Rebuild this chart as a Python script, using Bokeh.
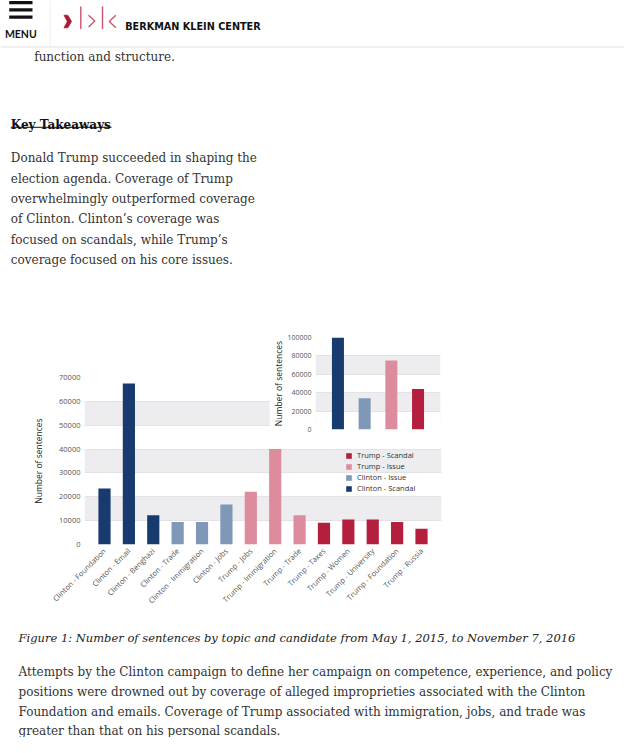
import math
from bokeh.plotting import figure
from bokeh.models import (Range1d, FactorRange, FixedTicker, NumeralTickFormatter,
                          Legend, LegendItem, GridBox, ColumnDataSource)
from bokeh.layouts import column
from bokeh.transform import factor_cmap
from bokeh.core.properties import value
from bokeh.embed import file_html
from bokeh.resources import INLINE

# ---------------- data ----------------
categories = ["Clinton - Foundation", "Clinton - Email", "Clinton - Benghazi",
              "Clinton - Trade", "Clinton - Immigration", "Clinton - Jobs",
              "Trump - Jobs", "Trump - Immigration", "Trump - Trade",
              "Trump - Taxes", "Trump - Women", "Trump - University",
              "Trump - Foundation", "Trump - Russia"]
sentences = [23500, 67500, 12300, 9400, 9400, 16800,
             22100, 40000, 12300, 9100, 10500, 10500, 9400, 6600]
groups = ["Clinton - Scandal"] * 3 + ["Clinton - Issue"] * 3 + \
         ["Trump - Issue"] * 3 + ["Trump - Scandal"] * 5

summary_groups = ["Clinton - Scandal", "Clinton - Issue", "Trump - Issue", "Trump - Scandal"]
summary_sentences = [100000, 34000, 75000, 44000]

group_colors = ["#173b6e", "#7f98b8", "#dc8c9c", "#b41f3d"]

main_ticks = [0, 10000, 20000, 30000, 40000, 50000, 60000, 70000]
inset_ticks = [0, 20000, 40000, 60000, 80000, 100000]

legend_order = ["Trump - Scandal", "Trump - Issue", "Clinton - Issue", "Clinton - Scandal"]

# ---------------- styles ----------------
SERIF = value("DejaVu Serif")
HEAD = value("DejaVu Sans")
MENU_FONT = value("Lato")
CHART_FONT = "Open Sans"
BODY_COLOR = "#333333"


def blank(p):
    p.axis.visible = False
    p.grid.visible = False
    p.outline_line_color = None
    p.background_fill_color = "white"
    p.border_fill_color = "white"


# ---------------- top page part ----------------
p_top = figure(width=624, height=322, x_range=Range1d(8, 632), y_range=Range1d(330, 8),
               output_backend="svg", toolbar_location=None, min_border=0)
blank(p_top)

p_top.text(x=[41.7], y=[64], text=["function and structure."], text_font=SERIF,
           text_font_size="12px", text_baseline="alphabetic", text_color=BODY_COLOR)
# header band
p_top.quad(left=[8], right=[632], top=[8], bottom=[54], fill_color="white", line_color=None)
p_top.segment(x0=[8], x1=[632], y0=[54.5], y1=[54.5], line_color="#e2e2e2", line_width=1.2)
p_top.segment(x0=[57.5], x1=[57.5], y0=[8], y1=[54], line_color="#ececec", line_width=1)
# menu icon
p_top.quad(left=[16.7] * 3, right=[40] * 3, top=[8.6, 15.7, 22.9], bottom=[11.8, 19, 26.2],
           fill_color="#111111", line_color=None)
p_top.text(x=[28.3], y=[41.7], text=["MENU"], text_font=MENU_FONT, text_font_style="bold",
           text_font_size="10.5px", text_align="center", text_baseline="alphabetic",
           text_color="#111111")
# logo
p_top.patch(x=[71.5, 75.3, 79.0, 75.3, 71.5, 74.8], y=[22.7, 22.7, 29.0, 35.3, 35.3, 29.0],
            fill_color="#a51c36", line_color="#a51c36", line_width=0.8)
p_top.segment(x0=[88.3, 110], x1=[88.3, 110], y0=[14, 14], y1=[36.5, 36.5],
              line_color="#c9566b", line_width=1.4)
p_top.line(x=[96, 102.3, 96], y=[22.7, 28.6, 34.5], line_color="#c9566b", line_width=1.4)
p_top.line(x=[123.3, 116.8, 123.3], y=[22.7, 29.0, 35.3], line_color="#c9566b", line_width=1.4)
p_top.text(x=[132.7], y=[34], text=["BERKMAN KLEIN CENTER"], text_font=HEAD,
           text_font_style="bold", text_font_size="9.7px", text_baseline="alphabetic",
           text_color="#111111")

# Key takeaways
p_top.text(x=[18.3], y=[132.7], text=["Key Takeaways"], text_font=SERIF, text_font_style="bold",
           text_font_size="12px", text_baseline="alphabetic", text_color="#111111")
p_top.segment(x0=[18.3], x1=[119], y0=[134.8], y1=[134.8], line_color="#111111", line_width=1)

para1 = ["Donald Trump succeeded in shaping the",
         "election agenda. Coverage of Trump",
         "overwhelmingly outperformed coverage",
         "of Clinton. Clinton\u2019s coverage was",
         "focused on scandals, while Trump\u2019s",
         "coverage focused on his core issues."]
para1_y = [165.7, 186.1, 206.5, 226.9, 247.3, 267.7]
p_top.text(x=[18.3] * len(para1), y=para1_y, text=para1, text_font=SERIF,
           text_font_size="12px", text_baseline="alphabetic", text_color=BODY_COLOR)

# ---------------- main chart ----------------
src = ColumnDataSource(dict(cat=categories, val=sentences, grp=groups))
p_main = figure(x_range=FactorRange(factors=categories, range_padding=0.32,
                                    range_padding_units="absolute"),
                y_range=Range1d(0, 70000),
                frame_width=357, frame_height=167,
                min_border_left=84, min_border_right=183, min_border_top=55, min_border_bottom=73,
                output_backend="svg", toolbar_location=None)
p_main.outline_line_color = None
r_main = p_main.vbar(x="cat", top="val", width=0.5, source=src, line_color=None,
                     fill_color=factor_cmap("grp", palette=group_colors, factors=summary_groups))
p_main.xgrid.visible = False
p_main.ygrid.ticker = FixedTicker(ticks=main_ticks)
p_main.ygrid.grid_line_color = "#e3e3e6"
p_main.ygrid.band_fill_color = "#ededf0"
p_main.ygrid.band_fill_alpha = 1.0
p_main.yaxis.ticker = FixedTicker(ticks=main_ticks)
p_main.yaxis.formatter = NumeralTickFormatter(format="0")
p_main.yaxis.axis_label = "Number of sentences"
p_main.yaxis.axis_label_standoff = 12
p_main.yaxis.major_label_standoff = 4
p_main.xaxis.major_label_orientation = math.pi / 4
p_main.xaxis.major_label_standoff = 5
for ax in (p_main.xaxis[0], p_main.yaxis[0]):
    ax.axis_line_color = None
    ax.major_tick_line_color = None
    ax.minor_tick_line_color = None
    ax.major_tick_out = 0
    ax.major_tick_in = 0
    ax.minor_tick_out = 0
    ax.major_label_text_font = CHART_FONT
    ax.major_label_text_color = "#555555"
    ax.major_label_text_font_size = "7.5px"
    ax.axis_label_text_font = CHART_FONT
    ax.axis_label_text_font_style = "normal"
    ax.axis_label_text_font_size = "8.5px"
    ax.axis_label_text_color = "#222222"

legend_index = {g: groups.index(g) for g in legend_order}
legend = Legend(items=[LegendItem(label=g, renderers=[r_main], index=legend_index[g])
                       for g in legend_order],
                location=(261, 51), orientation="vertical",
                glyph_width=7, glyph_height=7, label_height=7, label_width=20,
                spacing=1, padding=0, margin=0, label_standoff=5,
                border_line_color=None, background_fill_alpha=0,
                label_text_font=CHART_FONT, label_text_font_size="7.5px",
                label_text_color="#333333")
p_main.add_layout(legend)

# ---------------- inset chart ----------------
p_inset = figure(x_range=FactorRange(factors=summary_groups, range_padding=0.34,
                                     range_padding_units="absolute"),
                 y_range=Range1d(0, 100000), x_axis_location=None,
                 frame_width=125, frame_height=92,
                 min_border_left=46, min_border_right=7, min_border_top=12, min_border_bottom=5,
                 output_backend="svg", toolbar_location=None)
p_inset.outline_line_color = None
p_inset.background_fill_color = "white"
p_inset.border_fill_color = "white"
p_inset.vbar(x=summary_groups, top=summary_sentences, width=0.45, line_color=None,
             fill_color=group_colors)
p_inset.xgrid.visible = False
p_inset.ygrid.ticker = FixedTicker(ticks=inset_ticks)
p_inset.ygrid.grid_line_color = "#e3e3e6"
p_inset.ygrid.band_fill_color = "#ededf0"
p_inset.ygrid.band_fill_alpha = 1.0
ay = p_inset.yaxis[0]
ay.ticker = FixedTicker(ticks=inset_ticks)
ay.formatter = NumeralTickFormatter(format="0")
ay.axis_label = "Number of sentences"
ay.axis_label_standoff = 0
ay.major_label_standoff = 4
ay.axis_line_color = None
ay.major_tick_line_color = None
ay.minor_tick_line_color = None
ay.major_tick_out = 0
ay.major_tick_in = 0
ay.minor_tick_out = 0
ay.major_label_text_font = CHART_FONT
ay.major_label_text_font_size = "7px"
ay.major_label_text_color = "#555555"
ay.axis_label_text_font = CHART_FONT
ay.axis_label_text_font_style = "normal"
ay.axis_label_text_font_size = "8.5px"
ay.axis_label_text_color = "#222222"

chart = GridBox(children=[(p_main, 0, 0, 2, 2), (p_inset, 1, 1)],
                rows=["3px", "auto"], cols=["269px", "auto"])

# ---------------- bottom page part ----------------
p_bot = figure(width=624, height=120, x_range=Range1d(8, 632), y_range=Range1d(745, 625),
               output_backend="svg", toolbar_location=None, min_border=0)
blank(p_bot)
p_bot.text(x=[26], y=[645.5],
           text=["Figure 1: Number of sentences by topic and candidate from May 1, 2015, to November 7, 2016"],
           text_font=SERIF, text_font_style="italic", text_font_size="11.5px",
           text_baseline="alphabetic", text_color="#222222")
para2 = ["Attempts by the Clinton campaign to define her campaign on competence, experience, and policy",
         "positions were drowned out by coverage of alleged improprieties associated with the Clinton",
         "Foundation and emails. Coverage of Trump associated with immigration, jobs, and trade was",
         "greater than that on his personal scandals."]
para2_y = [679.5, 699.3, 719.1, 738.9]
p_bot.text(x=[26] * len(para2), y=para2_y, text=para2, text_font=SERIF,
           text_font_size="12px", text_baseline="alphabetic", text_color=BODY_COLOR)

page = column(p_top, chart, p_bot, spacing=0)

open("out.html", "w").write(file_html(page, INLINE))
